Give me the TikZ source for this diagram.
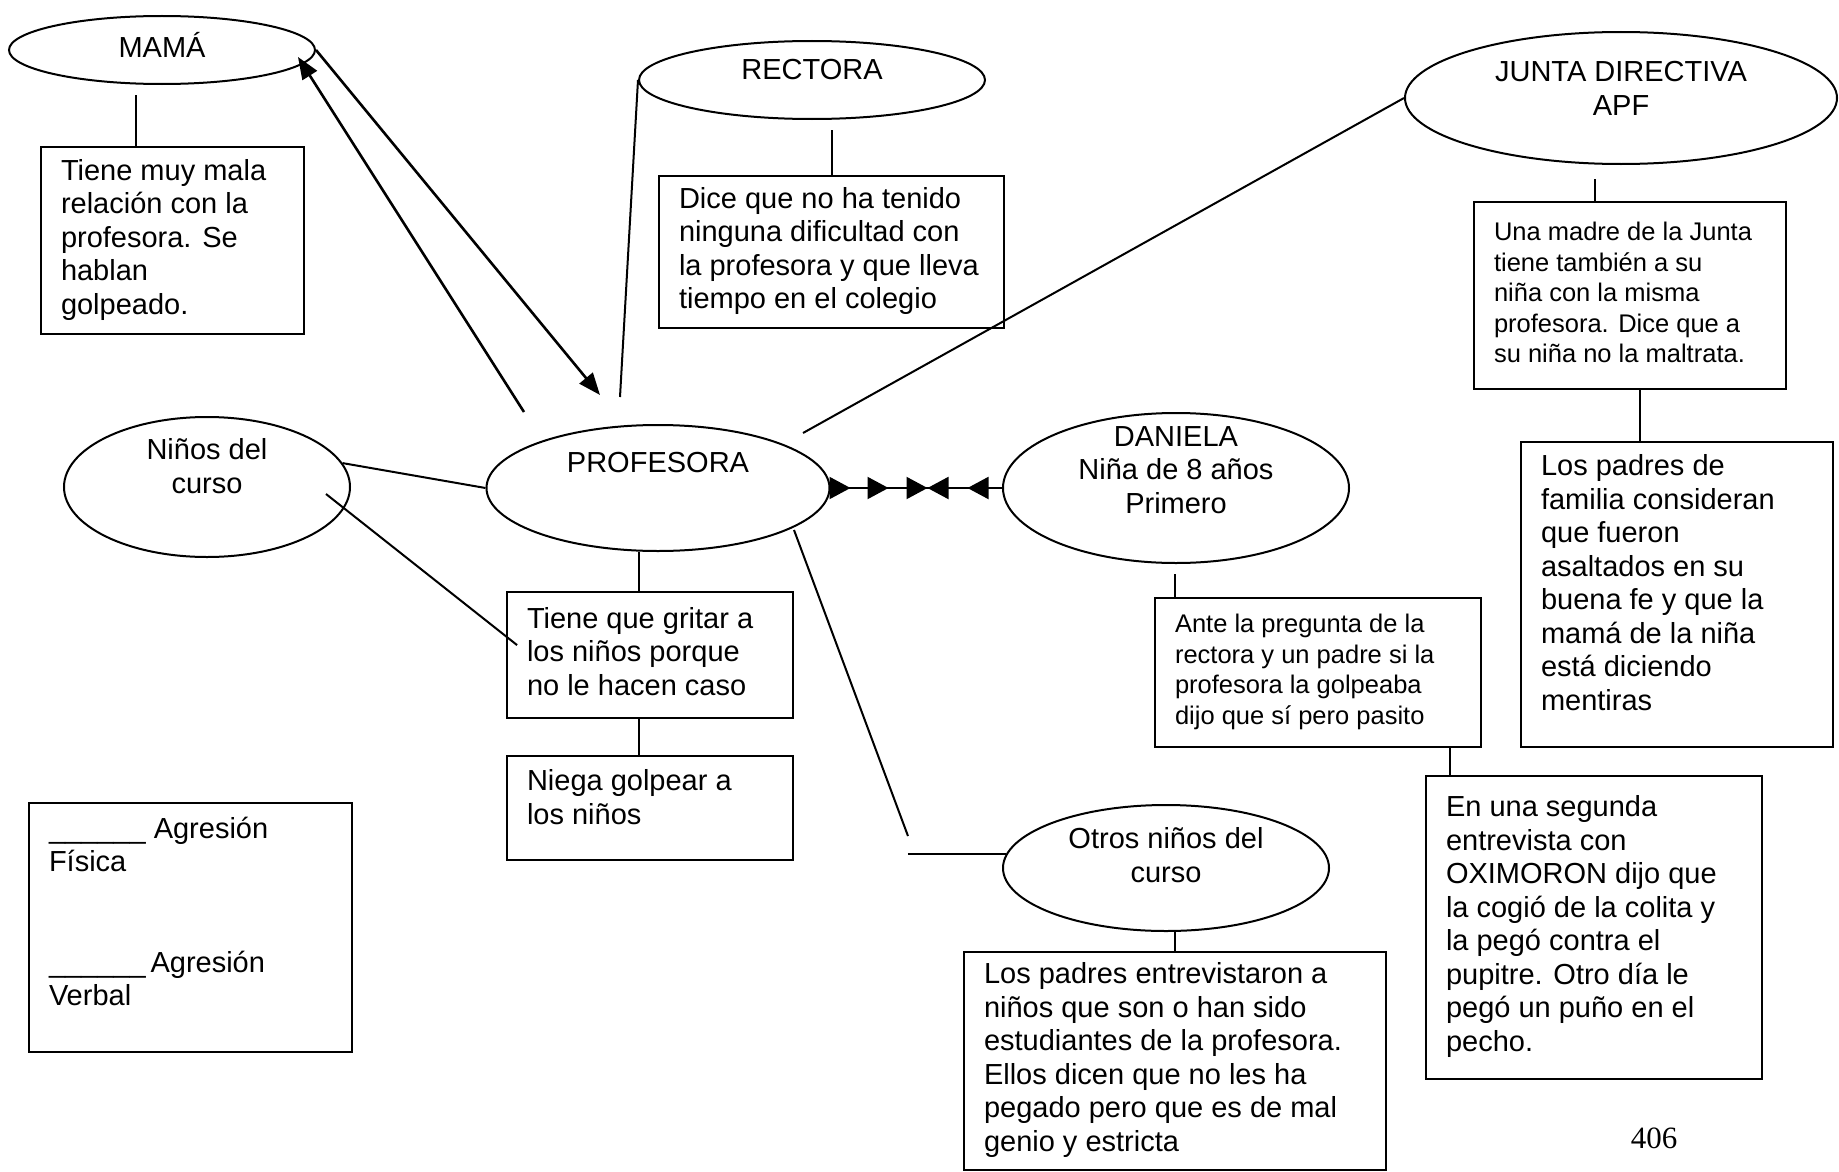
\documentclass[tikz,border=0pt]{standalone}
\usepackage{fontspec}
\setmainfont{Liberation Sans}
\newfontfamily\numfont{Liberation Serif}
\usetikzlibrary{shapes}
\usetikzlibrary{arrows.meta,decorations.markings}

% texto de los ovalos, centrado y subido un poco
\newcommand{\lifted}[2]{\raisebox{#1}[\height][\depth]{\begin{tabular}{@{}c@{}}#2\end{tabular}}}
% texto de las cajas, a la izquierda
\newcommand{\notabox}[3][0pt]{\makebox[#2][l]{\raisebox{#1}[\height][\depth]{\begin{tabular}{@{}l@{}}#3\end{tabular}}}}

\begin{document}
\begin{tikzpicture}[x=1pt, y=-1pt,
  font=\fontsize{29}{33.5}\selectfont,
  oval/.style={ellipse, draw, line width=2pt, inner sep=0pt},
  note/.style={rectangle, draw, line width=1.8pt, inner xsep=20pt, inner ysep=0pt},
  small/.style={font=\fontsize{25.5}{30.5}\selectfont},
  link/.style={line width=2pt},
  flecha/.style={line width=2.6pt, -{Triangle[length=22pt,width=17pt]}},
  cadena/.style={decoration={markings,
      mark=at position 20pt with {\arrow{Triangle[length=21pt,width=22pt]}},
      mark=at position 58pt with {\arrow{Triangle[length=21pt,width=22pt]}},
      mark=at position 97pt with {\arrow{Triangle[length=21pt,width=22pt]}},
      mark=at position 97pt with {\arrowreversed{Triangle[length=21pt,width=22pt]}},
      mark=at position 137pt with {\arrowreversed{Triangle[length=21pt,width=22pt]}}},
    postaction={decorate}}]

\fill[white] (0,0) rectangle (1839,1172);
\useasboundingbox (0,0) rectangle (1839,1172);

%%% ovalos %%%
\node[oval, minimum width=306, minimum height=68] (mama) at (162,50) {\lifted{0pt}{MAMÁ}};
\node[oval, minimum width=346, minimum height=78] (rectora) at (812,80) {\lifted{7pt}{RECTORA}};
\node[oval, minimum width=432, minimum height=132] (junta) at (1621,98) {\lifted{6pt}{JUNTA DIRECTIVA\\APF}};
\node[oval, minimum width=286, minimum height=140] (ninos) at (207,487) {\lifted{17pt}{Niños del\\curso}};
\node[oval, minimum width=343, minimum height=126] (profesora) at (658,488) {\lifted{22pt}{PROFESORA}};
\node[oval, minimum width=346, minimum height=150] (daniela) at (1176,488) {\lifted{15pt}{DANIELA\\Niña de 8 años\\Primero}};
\node[oval, minimum width=326, minimum height=126] (otros) at (1166,868) {\lifted{9pt}{Otros niños del\\curso}};

%%% cajas %%%
\node[note, minimum width=263, minimum height=187] (mamabox) at (172.5,240.5)
  {\notabox{223pt}{Tiene muy mala\\relación con la\\profesora. Se\\hablan\\golpeado.}};
\node[note, minimum width=345, minimum height=152] (rectorabox) at (831.5,252)
  {\notabox{305pt}{Dice que no ha tenido\\ninguna dificultad con\\la profesora y que lleva\\tiempo en el colegio}};
\node[note, small, minimum width=312, minimum height=187] (juntabox) at (1630,295.5)
  {\notabox{272pt}{Una madre de la Junta\\tiene también a su\\niña con la misma\\profesora. Dice que a\\su niña no la maltrata.}};
\node[note, minimum width=312, minimum height=305] (padresbox) at (1677,594.5)
  {\notabox[8pt]{272pt}{Los padres de\\familia consideran\\que fueron\\asaltados en su\\buena fe y que la\\mamá de la niña\\está diciendo\\mentiras}};
\node[note, minimum width=286, minimum height=126] (gritarbox) at (650,655)
  {\notabox{246pt}{Tiene que gritar a\\los niños porque\\no le hacen caso}};
\node[note, minimum width=286, minimum height=104] (niegabox) at (650,808)
  {\notabox[7pt]{246pt}{Niega golpear a\\los niños}};
\node[note, small, minimum width=326, minimum height=149] (danielabox) at (1318,672.5)
  {\notabox{286pt}{Ante la pregunta de la\\rectora y un padre si la\\profesora la golpeaba\\dijo que sí pero pasito}};
\node[note, minimum width=336, minimum height=303] (oximoronbox) at (1594,927.5)
  {\notabox{296pt}{En una segunda\\entrevista con\\OXIMORON dijo que\\la cogió de la colita y\\la pegó contra el\\pupitre. Otro día le\\pegó un puño en el\\pecho.}};
\node[note, minimum width=422, minimum height=218] (entrevistabox) at (1175,1061)
  {\notabox{382pt}{Los padres entrevistaron a\\niños que son o han sido\\estudiantes de la profesora.\\Ellos dicen que no les ha\\pegado pero que es de mal\\genio y estricta}};
\node[note, minimum width=323, minimum height=249] (leyenda) at (190.5,927.5)
  {\notabox[12pt]{283pt}{\_\_\_\_\_\_ Agresión\\Física\\ \\ \\\_\_\_\_\_\_\,Agresión\\Verbal}};

\node[font=\numfont\fontsize{31}{36}\selectfont] (pagina) at (1654,1138) {406};

%%% lineas de cada ovalo a su caja %%%
\coordinate (m1) at ([xshift=-36.5pt]mamabox.north);
\draw[link, shorten >=10pt] (m1) -- (m1 |- mama.south);
\draw[link, shorten >=10pt] (rectorabox.north) -- (rectorabox.north |- rectora.south);
\coordinate (j1) at ([xshift=-35pt]juntabox.north);
\draw[link, shorten >=14pt] (j1) -- (j1 |- junta.south);
\coordinate (j2) at ([xshift=10pt]juntabox.south);
\draw[link] (j2) -- (j2 |- padresbox.north);
\coordinate (d1) at ([xshift=-143pt]danielabox.north);
\draw[link, shorten >=10pt] (d1) -- (d1 |- daniela.south);
\coordinate (d2) at ([xshift=-144pt]oximoronbox.north);
\draw[link] (d2) -- (d2 |- danielabox.south);
\draw[link] (entrevistabox.north) -- (entrevistabox.north |- otros.south);
\coordinate (g1) at ([xshift=-11pt]gritarbox.north);
\draw[link] (g1) -- (g1 |- profesora.south);
\coordinate (g3) at ([xshift=-11pt]niegabox.north);
\draw[link] (g3) -- (g3 |- gritarbox.south);

%%% lineas a la profesora %%%
\draw[link] (ninos.10) -- (profesora.west);
\coordinate (n2) at ([shift={(119,7)}]ninos.center);
\coordinate (g2) at ([shift={(11,54)}]gritarbox.north west);
\draw[link] (n2) -- (g2);
%
\coordinate (p1) at ([shift={(-58,-29)}]profesora.north);
\coordinate (p2) at ([shift={(-134,-12)}]profesora.north);
\coordinate (m2) at ([shift={(-18,7)}]mama.east);
\draw[flecha] (mama.east) -- (p1);
\draw[flecha] (p2) -- (m2);
%
\coordinate (p3) at ([shift={(-38,-27)}]profesora.north);
\draw[link] (rectora.west) -- (p3);
\coordinate (p4) at ([shift={(145,-55)}]profesora.center);
\draw[link] (junta.west) -- (p4);
%
\coordinate (p5) at ([shift={(136,42)}]profesora.center);
\coordinate (o1) at ([shift={(-98,-18)}]otros.175);
\coordinate (o2) at ([xshift=-98pt]otros.175);
\draw[link] (p5) -- (o1);
\draw[link] (o2) -- (otros.175);
%
\draw[link, cadena] (profesora.east) -- (daniela.west);

\end{tikzpicture}
\end{document}
